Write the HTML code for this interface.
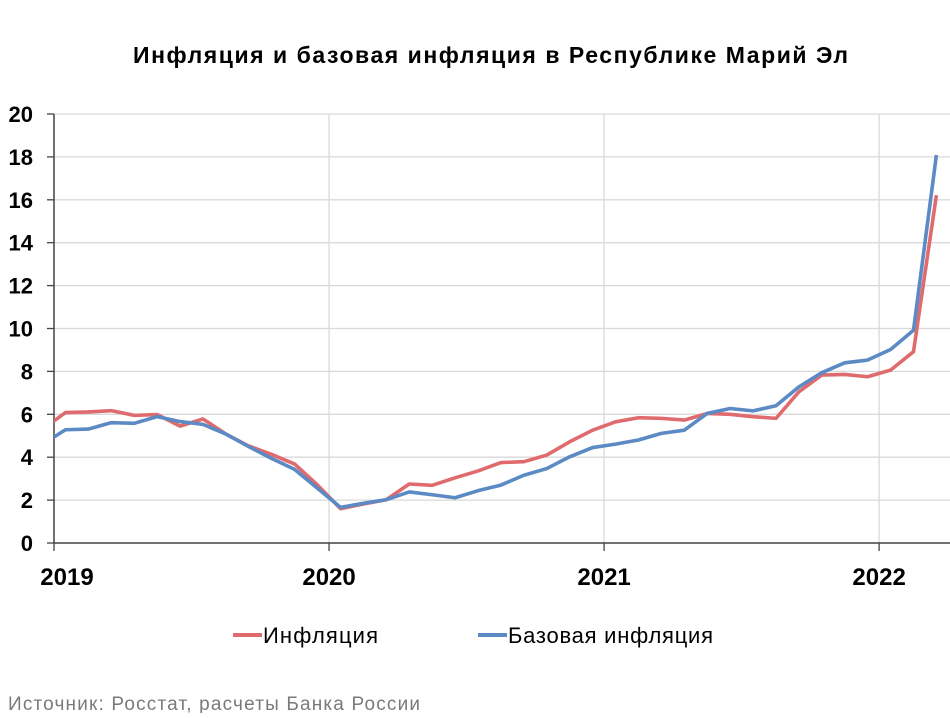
<!DOCTYPE html>
<html><head><meta charset="utf-8"><style>
body{margin:0;background:#fff;width:950px;height:713px;overflow:hidden;font-family:"Liberation Sans",sans-serif}
svg text{font-family:"Liberation Sans",sans-serif}
</style></head><body>
<svg id="chart" width="950" height="713">
<text x="133" y="63" font-size="23" font-weight="bold" fill="#000" textLength="715">Инфляция и базовая инфляция в Республике Марий Эл</text>
<g id="grid"></g><g id="axes"></g>
<defs><clipPath id="plotclip"><rect x="54" y="100" width="896" height="450"/></clipPath></defs>
<g id="series" clip-path="url(#plotclip)"></g>
<g>
<g><line x1="233" y1="635" x2="262" y2="635" stroke="#e06b6e" stroke-width="4"/><text x="263" y="643" font-size="22" fill="#000" textLength="115">Инфляция</text></g>
<g><line x1="478" y1="635" x2="507" y2="635" stroke="#5b8ac4" stroke-width="4"/><text x="508" y="643" font-size="22" fill="#000" textLength="205">Базовая инфляция</text></g>
</g>
<text x="8" y="710" font-size="19" fill="#7a7a7a" textLength="412">Источник: Росстат, расчеты Банка России</text>
</svg>
<script>
// monthly, Dec 2018 .. Mar 2022
const months = ["2018-12","2019-01","2019-02","2019-03","2019-04","2019-05","2019-06","2019-07","2019-08","2019-09","2019-10","2019-11","2019-12","2020-01","2020-02","2020-03","2020-04","2020-05","2020-06","2020-07","2020-08","2020-09","2020-10","2020-11","2020-12","2021-01","2021-02","2021-03","2021-04","2021-05","2021-06","2021-07","2021-08","2021-09","2021-10","2021-11","2021-12","2022-01","2022-02","2022-03"];
const inflation = [5.3,6.08,6.11,6.17,5.95,5.99,5.45,5.78,5.08,4.52,4.13,3.68,2.70,1.60,1.82,2.02,2.75,2.69,3.04,3.36,3.75,3.79,4.10,4.72,5.26,5.65,5.84,5.81,5.73,6.04,6.00,5.89,5.81,7.05,7.83,7.86,7.75,8.06,8.92,16.22];
const coreInflation = [4.6,5.28,5.31,5.61,5.58,5.89,5.66,5.53,5.08,4.49,3.94,3.43,2.55,1.66,1.85,2.02,2.38,2.25,2.11,2.44,2.70,3.16,3.47,4.02,4.45,4.61,4.80,5.11,5.26,6.04,6.27,6.16,6.40,7.28,7.94,8.40,8.53,9.02,9.92,18.09];
const yTicks = [0,2,4,6,8,10,12,14,16,18,20];
const xYears = ["2019","2020","2021","2022"];

const NS="http://www.w3.org/2000/svg";
const X0=54, MW=22.92, Y0=543, YU=21.45;
const xm = i => X0 + (i-0.5)*MW;        // i=0 is Dec 2018
const yv = v => Y0 - v*YU;
const xYear = k => X0 + k*12*MW;
function mk(tag, attrs, parent){const e=document.createElementNS(NS,tag);for(const k in attrs)e.setAttribute(k,attrs[k]);parent.appendChild(e);return e;}
const grid=document.getElementById('grid'), axes=document.getElementById('axes'), series=document.getElementById('series');
yTicks.forEach(t=>{
  if(t>0){const g=mk('line',{x1:X0,x2:950,y1:yv(t),y2:yv(t),stroke:'#d9d9d9','stroke-width':1.3},grid);
  
  }
  const tk=mk('line',{x1:X0-7,x2:X0,y1:yv(t),y2:yv(t),stroke:'#444','stroke-width':1.3},axes);
  
  
  const tx=mk('text',{x:33,y:yv(t)+8,'text-anchor':'end','font-size':22,'font-weight':'bold',fill:'#000'},axes);
  tx.textContent=t;
  
  
});
xYears.forEach((yr,k)=>{
  const x=xYear(k);
  if(k>0){const g=mk('line',{x1:x,x2:x,y1:yv(20),y2:Y0,stroke:'#d9d9d9','stroke-width':1.3},grid);
  
  }
  const tk=mk('line',{x1:x,x2:x,y1:Y0,y2:Y0+8,stroke:'#444','stroke-width':1.3},axes);
  
  
  const tx=mk('text',{x:k===0?X0+13:x,y:585,'text-anchor':'middle','font-size':24,'font-weight':'bold',fill:'#000'},axes);
  tx.textContent=yr;
  
  
});
const ya=mk('line',{x1:X0,x2:X0,y1:yv(20),y2:Y0,stroke:'#444','stroke-width':1.5},axes);


const xa=mk('line',{x1:X0,x2:950,y1:Y0,y2:Y0,stroke:'#444','stroke-width':1.5},axes);


function line(vals,color,name){
  const p=mk('polyline',{points:vals.map((v,i)=>xm(i)+','+yv(v)).join(' '),fill:'none',stroke:color,'stroke-width':3.6,'stroke-linejoin':'round'},series);
  
  
}
line(inflation,'#e06b6e','inflation-line');
line(coreInflation,'#5b8ac4','core-inflation-line');
</script>
</body></html>
